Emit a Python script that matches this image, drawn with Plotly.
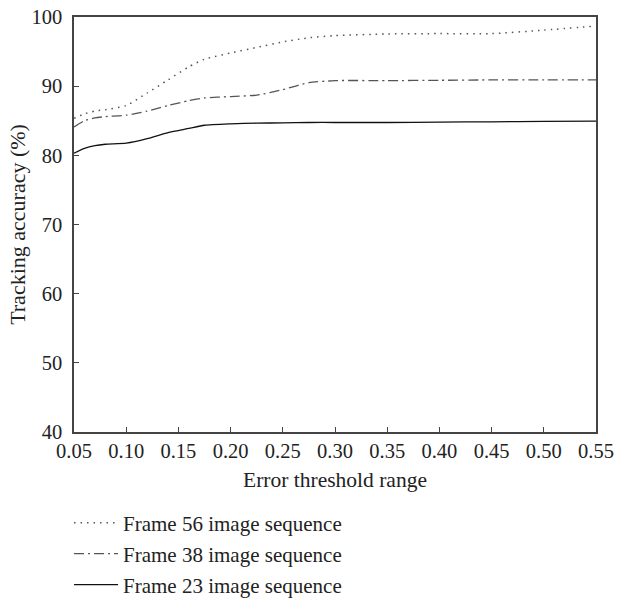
import plotly.graph_objects as go

x_thresh = [0.05, 0.06, 0.07, 0.08, 0.10, 0.12, 0.14, 0.16, 0.175, 0.20,
            0.225, 0.25, 0.275, 0.30, 0.35, 0.40, 0.45, 0.50, 0.55]
frame56 = [85.35, 86.0, 86.4, 86.6, 87.2, 89.0, 90.9, 92.8, 93.9, 94.8,
           95.6, 96.4, 97.0, 97.3, 97.55, 97.6, 97.6, 98.1, 98.7]
frame38 = [84.1, 85.0, 85.4, 85.6, 85.8, 86.4, 87.2, 87.9, 88.3, 88.5,
           88.7, 89.5, 90.5, 90.8, 90.8, 90.85, 90.9, 90.9, 90.9]
frame23 = [80.3, 81.0, 81.4, 81.6, 81.75, 82.4, 83.3, 83.9, 84.35, 84.55,
           84.65, 84.7, 84.75, 84.75, 84.75, 84.8, 84.85, 84.9, 84.95]

names = ["Frame 56 image sequence", "Frame 38 image sequence", "Frame 23 image sequence"]
x_ticks = [0.05, 0.10, 0.15, 0.20, 0.25, 0.30, 0.35, 0.40, 0.45, 0.50, 0.55]
y_ticks = [40, 50, 60, 70, 80, 90, 100]

FONT = "Liberation Serif"
TXT = "#222222"

fig = go.Figure()
styles = [
    dict(color="#555555", width=1.5, dash="1.5px,5px"),
    dict(color="#555555", width=1.3, dash="10px,4px,2px,4px"),
    dict(color="#111111", width=1.3, dash="solid"),
]
legend_ids = ["legend", "legend2", "legend3"]
for i, (ys, nm) in enumerate(zip([frame56, frame38, frame23], names)):
    fig.add_trace(go.Scatter(
        x=x_thresh, y=ys, mode="lines", name=nm,
        line=dict(shape="spline", smoothing=0.6, **styles[i]),
        legend=legend_ids[i],
    ))

# plot area: 74..596 px horizontally, 17..432 px vertically
plot_h = 415.0
row_px = [523, 554, 585]
leg_common = dict(
    x=-0.0095, xanchor="left", yanchor="middle",
    font=dict(family=FONT, size=21, color=TXT),
    itemwidth=44, bgcolor="rgba(0,0,0,0)", borderwidth=0,
)
legs = {}
for lid, py in zip(legend_ids, row_px):
    legs[lid] = dict(y=(432 - py) / plot_h, **leg_common)

fig.update_layout(
    width=619, height=599,
    margin=dict(l=74, r=23, t=17, b=167, autoexpand=False),
    paper_bgcolor="white", plot_bgcolor="white",
    font=dict(family=FONT, size=20.5, color=TXT),
    showlegend=True,
    **legs,
)
fig.update_xaxes(
    range=[0.05, 0.55], tickvals=x_ticks,
    ticktext=[f"{v:.2f}" for v in x_ticks],
    showgrid=False, zeroline=False,
    showline=True, linecolor="#444444", linewidth=1.5, mirror=True,
    ticks="inside", ticklen=5, tickcolor="#444444", tickwidth=1.2,
    title=dict(text="Error threshold range", font=dict(family=FONT, size=21.5), standoff=11),
)
fig.update_yaxes(
    range=[40, 100], tickvals=y_ticks,
    showgrid=False, zeroline=False,
    showline=True, linecolor="#444444", linewidth=1.5, mirror=True,
    ticks="inside", ticklen=5, tickcolor="#444444", tickwidth=1.2,
    ticklabelstandoff=6,
    title=dict(text="Tracking accuracy (%)", font=dict(family=FONT, size=22), standoff=0),
)

fig.write_html("out.html", config={"displayModeBar": False},
               post_script="document.body.style.margin='0px';")
